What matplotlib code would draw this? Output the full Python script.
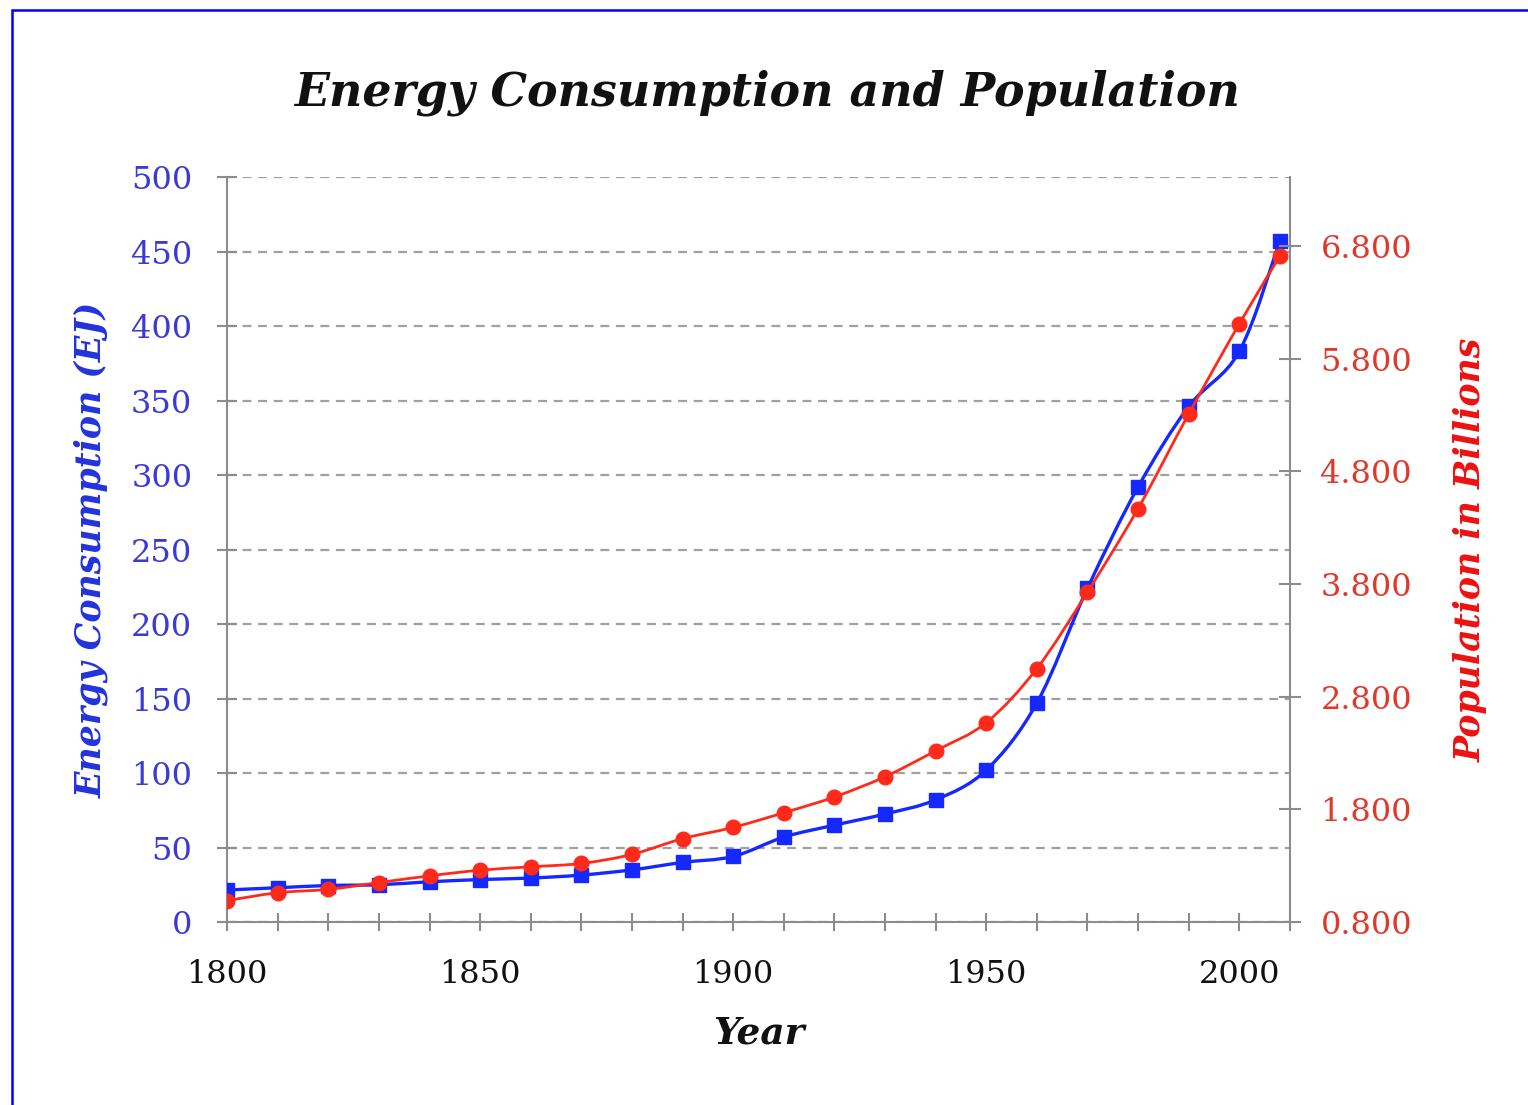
import numpy as np
import matplotlib
matplotlib.use('Agg')
import matplotlib.pyplot as plt
from matplotlib.path import Path
from matplotlib.patches import PathPatch, Rectangle
from matplotlib.ticker import MultipleLocator, FixedLocator, FormatStrFormatter

years = [1800, 1810, 1820, 1830, 1840, 1850, 1860, 1870, 1880, 1890, 1900,
         1910, 1920, 1930, 1940, 1950, 1960, 1970, 1980, 1990, 2000, 2008]
energy = [21.5, 23, 24.5, 25, 27, 28.5, 29.5, 31.5, 35, 40, 44,
          57, 65, 72.5, 82, 102, 147, 224, 292, 346, 383, 457]
population = [0.99, 1.06, 1.09, 1.15, 1.21, 1.26, 1.29, 1.32, 1.40, 1.54, 1.64,
              1.77, 1.91, 2.09, 2.32, 2.57, 3.05, 3.73, 4.47, 5.31, 6.11, 6.71]

energy_ticks = [0, 50, 100, 150, 200, 250, 300, 350, 400, 450, 500]
pop_ticks = [0.8, 1.8, 2.8, 3.8, 4.8, 5.8, 6.8]
year_ticks = [1800, 1850, 1900, 1950, 2000]

BLUE = '#1428ff'
RED = '#ff2a1a'
BLUE_TXT = '#3a3ad6'
RED_TXT = '#e0382a'
GREY = '#8c8c8c'
SERIF = 'DejaVu Serif'


def smooth_path(x, y):
    # excel-ish smoothed line: catmull-rom as cubic bezier segments
    pts = np.column_stack([np.asarray(x, float), np.asarray(y, float)])
    n = len(pts)
    verts = [pts[0]]
    codes = [Path.MOVETO]
    for i in range(n - 1):
        p0 = pts[i - 1] if i > 0 else pts[i]
        p1 = pts[i]
        p2 = pts[i + 1]
        p3 = pts[i + 2] if i + 2 < n else pts[i + 1]
        verts += [p1 + (p2 - p0) / 6, p2 - (p3 - p1) / 6, p2]
        codes += [Path.CURVE4] * 3
    return Path(verts, codes)


fig = plt.figure(figsize=(15.28, 11.05), dpi=100)
fig.patches.append(Rectangle((12 / 1528, -0.05), 1.2, 1.05 - 10 / 1105,
                             transform=fig.transFigure, fill=False,
                             edgecolor='#0000ff', lw=1.8))

ax = fig.add_axes([0.1486, 0.1656, 0.8442 - 0.1486, 0.8398 - 0.1656])
ax2 = ax.twinx()

# energy (left axis)
ax.add_patch(PathPatch(smooth_path(years, energy), fill=False,
                       edgecolor=BLUE, lw=2.4, zorder=3))
ax.plot(years, energy, ls='none', marker='s', ms=10.5, color=BLUE, zorder=4)

# population (right axis)
ax2.add_patch(PathPatch(smooth_path(years, population), fill=False,
                        edgecolor=RED, lw=2.0, zorder=3))
ax2.plot(years, population, ls='none', marker='o', ms=10.5, color=RED, zorder=4)

ax.set_xlim(1800, 2010)
ax.set_ylim(0, 500)
ax2.set_ylim(0.8, 0.8 + 6 * 745 / 676)

ax.yaxis.set_major_locator(FixedLocator(energy_ticks))
ax.xaxis.set_major_locator(FixedLocator(year_ticks))
ax.xaxis.set_minor_locator(MultipleLocator(10))
ax2.yaxis.set_major_locator(FixedLocator(pop_ticks))
ax2.yaxis.set_major_formatter(FormatStrFormatter('%.3f'))

ax.grid(axis='y', color='#a0a0a0', ls=(0, (4, 3)), lw=1.6)
ax.set_axisbelow(True)

for a in (ax, ax2):
    a.spines['top'].set_visible(False)
    for s in ('left', 'right', 'bottom'):
        a.spines[s].set_color(GREY)
        a.spines[s].set_linewidth(1.5)
ax.spines['right'].set_visible(False)
ax2.spines['left'].set_visible(False)
ax2.spines['bottom'].set_visible(False)

ax.tick_params(axis='y', direction='inout', length=14, width=1.5, color=GREY,
               labelsize=23, labelcolor=BLUE_TXT, pad=18)
ax.tick_params(axis='x', which='both', direction='inout', length=13, width=1.5,
               color=GREY, labelsize=23, labelcolor='#111111', pad=20)
ax2.tick_params(axis='y', direction='inout', length=16, width=1.5, color=GREY,
                labelsize=23, labelcolor=RED_TXT, pad=14)
for lab in ax.get_xticklabels() + ax.get_yticklabels() + ax2.get_yticklabels():
    lab.set_family(SERIF)

ax.set_xlabel('Year', fontsize=27, fontweight='bold', style='italic',
              family=SERIF, color='#111111', labelpad=18)
ax.set_ylabel('Energy Consumption (EJ)', fontsize=25, fontweight='bold',
              style='italic', family=SERIF, color='#2233dd', labelpad=16)
ax2.set_ylabel('Population in Billions', fontsize=25, fontweight='bold',
               style='italic', family=SERIF, color='#ee1111', labelpad=30)

fig.text(0.502, 0.916, 'Energy Consumption and Population', ha='center',
         va='center', fontsize=33, fontweight='bold', style='italic',
         family=SERIF, color='#111111')

fig.savefig('out.png', dpi=100)
